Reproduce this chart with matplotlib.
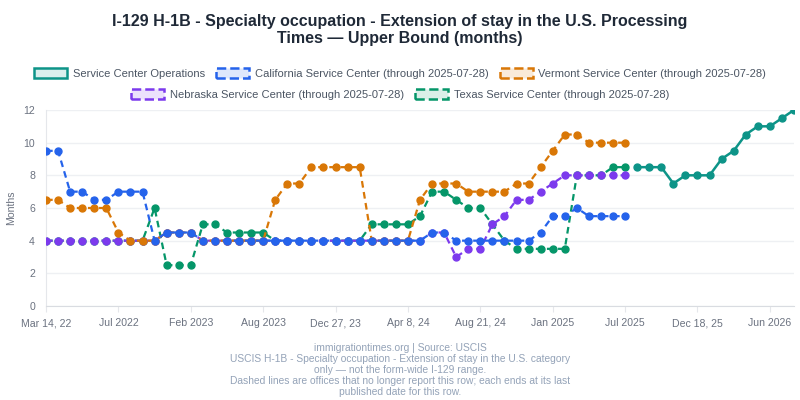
import numpy as np
import matplotlib
matplotlib.use("Agg")
import matplotlib.pyplot as plt
import matplotlib.patches as mpatches

plt.rcParams["font.family"] = ["Liberation Sans", "DejaVu Sans"]

# x positions are report snapshots, evenly spaced; labels every 6th snapshot
tick_labels = ["Mar 14, 22", "Jul 2022", "Feb 2023", "Aug 2023", "Dec 27, 23",
               "Apr 8, 24", "Aug 21, 24", "Jan 2025", "Jul 2025", "Dec 18, 25", "Jun 2026"]
n_points = 63

california = [9.5, 9.5, 7, 7, 6.5, 6.5, 7, 7, 7, 4,
              4.5, 4.5, 4.5, 4, 4, 4, 4, 4, 4, 4,
              4, 4, 4, 4, 4, 4, 4, 4, 4, 4,
              4, 4, 4.5, 4.5, 4, 4, 4, 4, 4, 4,
              4, 4.5, 5.5, 5.5, 6, 5.5, 5.5, 5.5, 5.5]
vermont = [6.5, 6.5, 6, 6, 6, 6, 4.5, 4, 4, 4,
           4.5, 4.5, 4.5, 4, 4, 4, 4, 4, 4, 6.5,
           7.5, 7.5, 8.5, 8.5, 8.5, 8.5, 8.5, 4, 4, 4,
           4, 6.5, 7.5, 7.5, 7.5, 7, 7, 7, 7, 7.5,
           7.5, 8.5, 9.5, 10.5, 10.5, 10, 10, 10, 10]
nebraska = [4, 4, 4, 4, 4, 4, 4, 4, 4, 4,
            4.5, 4.5, 4.5, 4, 4, 4, 4, 4, 4, 4,
            4, 4, 4, 4, 4, 4, 4, 4, 4, 4,
            4, 4, 4.5, 4.5, 3, 3.5, 3.5, 5, 5.5, 6.5,
            6.5, 7, 7.5, 8, 8, 8, 8, 8, 8]
texas = [4, 4, 4, 4, 4, 4, 4, 4, 4, 6,
         2.5, 2.5, 2.5, 5, 5, 4.5, 4.5, 4.5, 4.5, 4,
         4, 4, 4, 4, 4, 4, 4, 5, 5, 5,
         5, 5.5, 7, 7, 6.5, 6, 6, 5, 4, 3.5,
         3.5, 3.5, 3.5, 3.5, 8, 8, 8, 8.5, 8.5]
operations = [8.5, 8.5, 8.5, 7.5, 8, 8, 8, 9, 9.5, 10.5, 11, 11, 11.5, 12]
ops_start = 49

colors = {
    "ops": "#0d9488",
    "ca": "#2563eb",
    "vt": "#d97706",
    "ne": "#7c3aed",
    "tx": "#059669",
}

fig = plt.figure(figsize=(8, 4), dpi=100)
ax = fig.add_axes([0.0575, 0.235, 0.935, 0.49])

dash = (0, (3, 2))
series = [
    (texas, colors["tx"], 2),
    (nebraska, colors["ne"], 3),
    (vermont, colors["vt"], 4),
    (california, colors["ca"], 5),
]
for vals, c, z in series:
    xs = np.arange(len(vals))
    ax.plot(xs, vals, color=c, lw=1.6, linestyle=dash, marker="o", ms=5,
            mfc=c, mec=c, zorder=z)

xs_ops = np.arange(ops_start, ops_start + len(operations))
ax.plot(xs_ops, operations, color=colors["ops"], lw=1.8, marker="o", ms=5,
        mfc=colors["ops"], mec=colors["ops"], zorder=6)

ax.set_xlim(0, n_points - 1)
ax.set_ylim(0, 12)
ax.set_yticks(np.arange(0, 13, 2))
ax.set_xticks(np.arange(0, n_points, 6))
ax.set_xticklabels(tick_labels)
ax.tick_params(axis="both", labelsize=7.6, colors="#6b7280", length=4)
ax.tick_params(axis="x", color="#e5e7eb", pad=5)
ax.tick_params(axis="y", length=0, pad=8)
ax.grid(axis="y", color="#eef0f3", lw=1)
ax.set_axisbelow(True)
for s in ["top", "right"]:
    ax.spines[s].set_visible(False)
ax.spines["left"].set_color("#e5e7eb")
ax.spines["bottom"].set_color("#d9dce1")
ax.set_ylabel("Months", fontsize=7.6, color="#6b7280")
ax.yaxis.set_label_coords(-0.04, 0.5)

fig.text(0.5, 0.925, "I-129 H-1B - Specialty occupation - Extension of stay in the U.S. Processing\n"
         "Times \u2014 Upper Bound (months)", ha="center", va="center",
         fontsize=11.5, fontweight="bold", color="#1f2937", linespacing=1.15)


def handle(c, ls):
    return mpatches.Patch(facecolor=matplotlib.colors.to_rgba(c, 0.15), edgecolor=c,
                          linestyle=ls, linewidth=1.8)


row1 = [handle(colors["ops"], "-"), handle(colors["ca"], "--"), handle(colors["vt"], "--")]
row1_labels = ["Service Center Operations",
               "California Service Center (through 2025-07-28)",
               "Vermont Service Center (through 2025-07-28)"]
row2 = [handle(colors["ne"], "--"), handle(colors["tx"], "--")]
row2_labels = ["Nebraska Service Center (through 2025-07-28)",
               "Texas Service Center (through 2025-07-28)"]

leg_kw = dict(frameon=False, fontsize=8, labelcolor="#4b5563", handlelength=3.0,
              handleheight=1.0, handletextpad=0.5, columnspacing=1.0, borderaxespad=0)
fig.legend(row1, row1_labels, ncol=3, loc="center", bbox_to_anchor=(0.5, 0.817), **leg_kw)
fig.legend(row2, row2_labels, ncol=2, loc="center", bbox_to_anchor=(0.5, 0.764), **leg_kw)

foot = ("immigrationtimes.org | Source: USCIS\n"
        "USCIS H-1B - Specialty occupation - Extension of stay in the U.S. category\n"
        "only \u2014 not the form-wide I-129 range.\n"
        "Dashed lines are offices that no longer report this row; each ends at its last\n"
        "published date for this row.")
fig.text(0.5, 0.075, foot, ha="center", va="center", fontsize=7.4, color="#94a3b8",
         linespacing=1.12)

fig.savefig("out.png", dpi=100)
